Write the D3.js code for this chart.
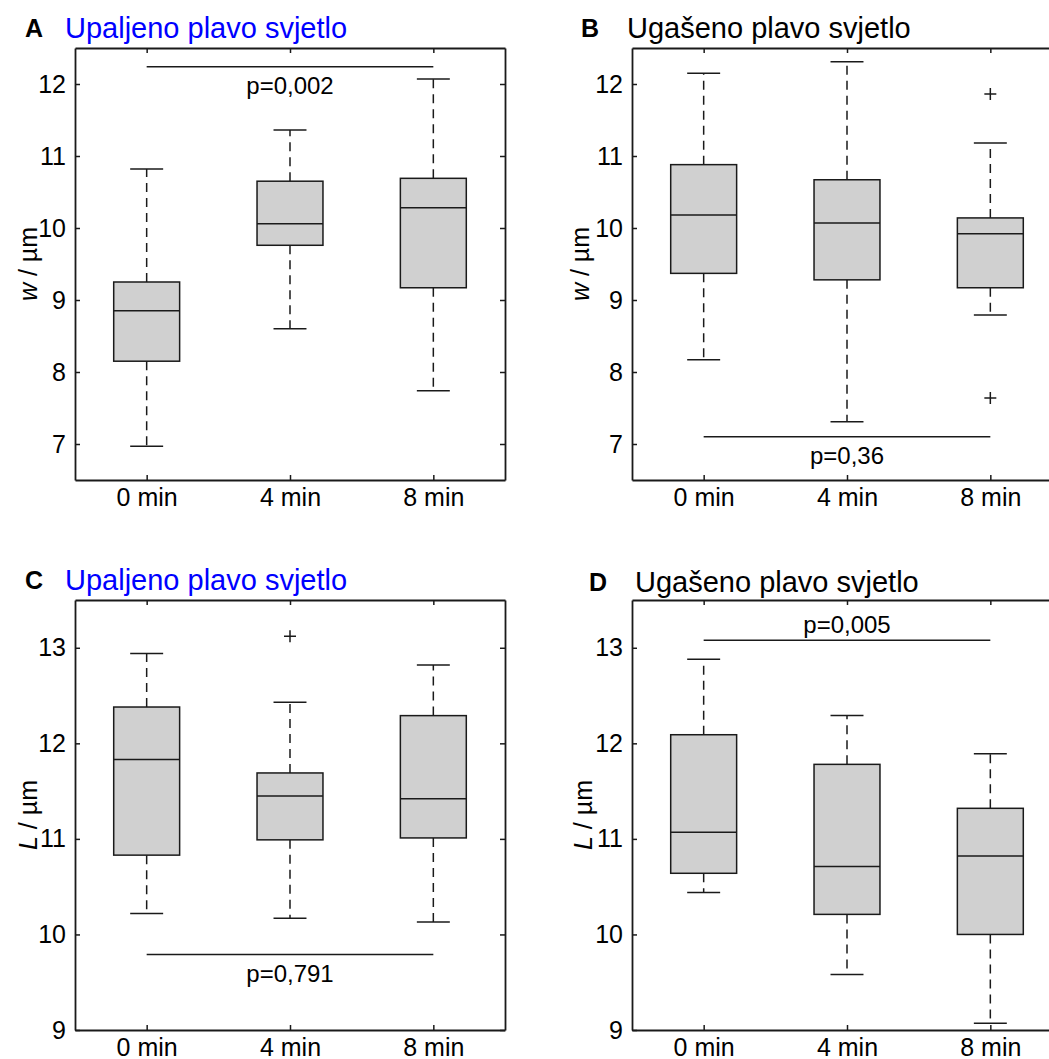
<!DOCTYPE html>
<html>
<head>
<meta charset="utf-8">
<script src="https://cdn.jsdelivr.net/npm/d3@7"></script>
<style>
  html, body { margin: 0; padding: 0; background: #fff; overflow: hidden; }
  svg { display: block; font-family: "Liberation Sans", Arial, sans-serif; }
</style>
</head>
<body>
<script>
// Categories and tick values
const categories = ['0 min', '4 min', '8 min'];
const wTicks = [7, 8, 9, 10, 11, 12];
const lTicks = [9, 10, 11, 12, 13];

// Box stats per category: [lower whisker, Q1, median, Q3, upper whisker]
const boxA = [[6.97, 8.15, 8.85, 9.25, 10.82], [8.6, 9.76, 10.06, 10.65, 11.36], [7.74, 9.17, 10.28, 10.69, 12.07]];
const boxB = [[8.17, 9.37, 10.18, 10.88, 12.15], [7.31, 9.28, 10.07, 10.67, 12.31], [8.79, 9.17, 9.92, 10.14, 11.18]];
const boxC = [[10.22, 10.83, 11.83, 12.38, 12.94], [10.17, 10.99, 11.45, 11.69, 12.43], [10.13, 11.01, 11.42, 12.29, 12.82]];
const boxD = [[10.44, 10.64, 11.07, 12.09, 12.88], [9.58, 10.21, 10.71, 11.78, 12.29], [9.07, 10.0, 10.82, 11.32, 11.89]];

// Outliers per category
const outA = [[], [], []];
const outB = [[], [], [11.86, 7.64]];
const outC = [[], [13.12], []];
const outD = [[], [], []];

// Significance tests: [from category, to category, level, label]
const testA = ['0 min', '8 min', 12.24, 'p=0,002'];
const testB = ['0 min', '8 min', 7.10, 'p=0,36'];
const testC = ['0 min', '8 min', 9.79, 'p=0,791'];
const testD = ['0 min', '8 min', 13.08, 'p=0,005'];

const W = 1049, H = 1059;
const ink = '#1a1a1a';

const svg = d3.select('body')
  .append('svg')
  .attr('width', W)
  .attr('height', H);

const panels = [
  { letter: 'A', title: 'Upaljeno plavo svjetlo', color: '#0000ff', box: boxA, out: outA, test: testA, ticks: wTicks,
    domain: [6.5, 12.5], yVar: 'w', left: 75, top: 48, w: 430, h: 432, labelX: 37, letterX: 25, titleX: 65, titleY: 38, pAbove: false },
  { letter: 'B', title: 'Ugašeno plavo svjetlo', color: '#000', box: boxB, out: outB, test: testB, ticks: wTicks,
    domain: [6.5, 12.5], yVar: 'w', left: 632, top: 48, w: 430, h: 432, labelX: 589, letterX: 581, titleX: 627, titleY: 38, pAbove: false },
  { letter: 'C', title: 'Upaljeno plavo svjetlo', color: '#0000ff', box: boxC, out: outC, test: testC, ticks: lTicks,
    domain: [9, 13.5], yVar: 'L', left: 75, top: 600, w: 430, h: 430, labelX: 37, letterX: 25, titleX: 65, titleY: 590, pAbove: false },
  { letter: 'D', title: 'Ugašeno plavo svjetlo', color: '#000', box: boxD, out: outD, test: testD, ticks: lTicks,
    domain: [9, 13.5], yVar: 'L', left: 632, top: 600, w: 430, h: 430, labelX: 592, letterX: 589, titleX: 635, titleY: 592, pAbove: true }
];

panels.forEach((p) => {
  const g = svg.append('g');
  const x = d3.scalePoint().domain(categories).range([p.left, p.left + p.w]).padding(0.5);
  const y = d3.scaleLinear().domain(p.domain).range([p.top + p.h, p.top]);
  const step = x.step();
  const boxW = step * 0.46;
  const capW = step * 0.23;

  // Boxes
  const boxes = g.selectAll('.box')
    .data(p.box.map((d, i) => ({ cat: categories[i], s: d })))
    .enter()
    .append('g');

  // whiskers
  boxes.append('line')
    .attr('x1', d => x(d.cat)).attr('x2', d => x(d.cat))
    .attr('y1', d => y(d.s[3])).attr('y2', d => y(d.s[4]))
    .attr('stroke', ink).attr('stroke-width', 1.5).attr('stroke-dasharray', '9,6');
  boxes.append('line')
    .attr('x1', d => x(d.cat)).attr('x2', d => x(d.cat))
    .attr('y1', d => y(d.s[1])).attr('y2', d => y(d.s[0]))
    .attr('stroke', ink).attr('stroke-width', 1.5).attr('stroke-dasharray', '9,6');
  // caps
  [0, 4].forEach((k) => {
    boxes.append('line')
      .attr('x1', d => x(d.cat) - capW / 2).attr('x2', d => x(d.cat) + capW / 2)
      .attr('y1', d => y(d.s[k])).attr('y2', d => y(d.s[k]))
      .attr('stroke', ink).attr('stroke-width', 1.5);
  });
  // box
  boxes.append('rect')
    .attr('x', d => x(d.cat) - boxW / 2)
    .attr('width', boxW)
    .attr('y', d => y(d.s[3]))
    .attr('height', d => y(d.s[1]) - y(d.s[3]))
    .attr('fill', '#d0d0d0')
    .attr('stroke', ink).attr('stroke-width', 1.5);
  // median
  boxes.append('line')
    .attr('x1', d => x(d.cat) - boxW / 2).attr('x2', d => x(d.cat) + boxW / 2)
    .attr('y1', d => y(d.s[2])).attr('y2', d => y(d.s[2]))
    .attr('stroke', ink).attr('stroke-width', 1.5);

  // Outliers
  const pts = [];
  p.out.forEach((arr, i) => arr.forEach(v => pts.push({ cat: categories[i], v })));
  g.selectAll('.out')
    .data(pts)
    .enter()
    .append('path')
    .attr('transform', d => `translate(${x(d.cat)},${y(d.v)})`)
    .attr('d', 'M-6,0H6M0,-6V6')
    .attr('stroke', ink).attr('stroke-width', 1.5);

  // Significance line + label
  const [from, to, level, label] = p.test;
  g.append('line')
    .attr('x1', x(from)).attr('x2', x(to))
    .attr('y1', y(level)).attr('y2', y(level))
    .attr('stroke', ink).attr('stroke-width', 1.5);
  g.append('text')
    .attr('x', (x(from) + x(to)) / 2)
    .attr('y', y(level) + (p.pAbove ? -7 : 27))
    .attr('text-anchor', 'middle')
    .attr('font-size', 24)
    .attr('fill', '#000')
    .text(label);

  // Axes (ticks point inward)
  const styleAxis = (sel) => {
    sel.selectAll('path').attr('stroke', ink).attr('stroke-width', 1.8);
    sel.selectAll('line').attr('stroke', ink).attr('stroke-width', 1.5);
    sel.selectAll('text').attr('fill', '#000').attr('font-size', 25).attr('font-family', null);
  };

  g.append('g')
    .attr('transform', `translate(${p.left},0)`)
    .call(d3.axisLeft(y).tickValues(p.ticks).tickFormat(d3.format('d')).tickSizeInner(-5).tickSizeOuter(0).tickPadding(9))
    .call(styleAxis);
  g.append('g')
    .attr('transform', `translate(${p.left + p.w},0)`)
    .call(d3.axisRight(y).tickValues(p.ticks).tickFormat('').tickSizeInner(-5).tickSizeOuter(0))
    .call(styleAxis);
  g.append('g')
    .attr('transform', `translate(0,${p.top + p.h})`)
    .call(d3.axisBottom(x).tickSizeInner(-5).tickSizeOuter(0).tickPadding(8))
    .call(styleAxis);
  g.append('g')
    .attr('transform', `translate(0,${p.top})`)
    .call(d3.axisTop(x).tickFormat('').tickSizeInner(-5).tickSizeOuter(0))
    .call(styleAxis);

  // Y label
  const yl = g.append('text')
    .attr('transform', `translate(${p.labelX},${p.top + p.h / 2}) rotate(-90)`)
    .attr('text-anchor', 'middle')
    .attr('font-size', 25)
    .attr('fill', '#000');
  yl.append('tspan').attr('font-style', 'italic').text(p.yVar);
  yl.append('tspan').text(' / µm');

  // Title
  g.append('text')
    .attr('x', p.letterX)
    .attr('y', p.titleY - 1)
    .attr('font-size', 25)
    .attr('font-weight', 'bold')
    .attr('fill', '#000')
    .text(p.letter);
  g.append('text')
    .attr('x', p.titleX)
    .attr('y', p.titleY)
    .attr('font-size', 29)
    .attr('fill', p.color)
    .text(p.title);
});
</script>
</body>
</html>
